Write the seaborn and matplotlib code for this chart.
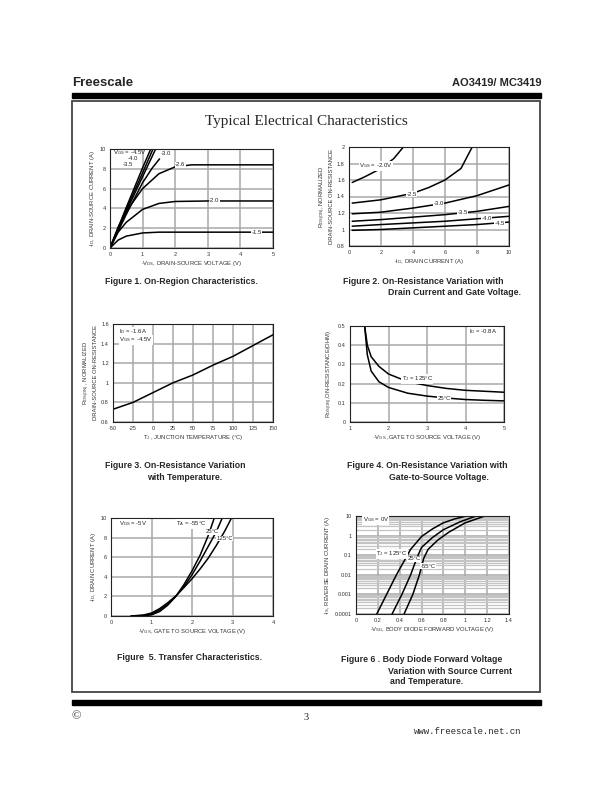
import numpy as np
import matplotlib
matplotlib.use("Agg")
import matplotlib.pyplot as plt
from matplotlib.patches import Rectangle
import seaborn as sns

sns.set_theme(style="white")
plt.rcParams['font.family'] = ['Liberation Sans', 'DejaVu Sans']
plt.rcParams['mathtext.fontset'] = 'custom'
plt.rcParams['mathtext.rm'] = 'Liberation Sans'
plt.rcParams['mathtext.it'] = 'Liberation Sans'
plt.rcParams['axes.unicode_minus'] = False

# ---------------- data ----------------
# Figure 1: on-region characteristics, -Id vs -Vds per Vgs
fig1_vgs = ["-4.5", "-4.0", "-3.5", "-3.0", "-2.6", "-2.0", "-1.5"]
fig1_vds = [
    [0, 0.5, 1.0, 1.25],
    [0, 0.5, 1.0, 1.32],
    [0, 0.5, 1.0, 1.4],
    [0, 0.5, 1.0, 1.3, 1.52],
    [0, 0.25, 0.5, 1.0, 1.5, 2.0, 2.5, 3, 4, 5],
    [0, 0.25, 0.5, 1.0, 1.5, 2.0, 3, 4, 5],
    [0, 0.25, 0.5, 1.0, 1.5, 2, 3, 4, 5],
]
fig1_id = [
    [0, 4.1, 8.1, 10],
    [0, 3.9, 7.6, 10],
    [0, 3.7, 7.2, 10],
    [0, 3.4, 6.6, 8.1, 9.0],
    [0, 2.1, 3.7, 6.0, 7.5, 8.2, 8.4, 8.4, 8.4, 8.4],
    [0, 1.6, 2.6, 3.9, 4.5, 4.7, 4.75, 4.75, 4.75],
    [0, 0.8, 1.2, 1.52, 1.6, 1.6, 1.6, 1.6, 1.6],
]

# Figure 2: normalized Rds(on) vs -Id per Vgs
fig2_vgs = ["-2.0", "-2.5", "-3.0", "-3.5", "-4.0", "-4.5"]
fig2_id = [
    [0.2, 1, 2, 2.8, 3.4],
    [0.2, 2, 4, 5, 6, 7, 7.7],
    [0.2, 2, 4, 6, 8, 10],
    [0.2, 2, 4, 6, 8, 10],
    [0.2, 2, 4, 6, 8, 10],
    [0.2, 2, 4, 6, 8, 10],
]
fig2_rds = [
    [1.57, 1.64, 1.74, 1.86, 2.0],
    [1.32, 1.36, 1.44, 1.51, 1.6, 1.74, 2.0],
    [1.19, 1.21, 1.26, 1.32, 1.41, 1.54],
    [1.1, 1.12, 1.15, 1.18, 1.22, 1.28],
    [1.04, 1.06, 1.08, 1.1, 1.13, 1.16],
    [0.99, 1.0, 1.02, 1.04, 1.06, 1.09],
]

# Figure 3: normalized Rds(on) vs junction temperature
fig3_tj = [-50, -25, 0, 25, 50, 75, 100, 125, 150]
fig3_rds = [0.73, 0.8, 0.9, 1.0, 1.08, 1.18, 1.27, 1.38, 1.49]

# Figure 4: Rds(on) vs -Vgs
fig4_vgs = [1.38, 1.45, 1.55, 1.75, 2.0, 2.5, 3.0, 3.5, 4.0, 4.5, 5.0]
fig4_r125 = [0.5, 0.4, 0.34, 0.29, 0.25, 0.21, 0.19, 0.175, 0.165, 0.16, 0.155]
fig4_r25 = [0.5, 0.35, 0.265, 0.21, 0.18, 0.15, 0.135, 0.125, 0.117, 0.113, 0.11]

# Figure 5: transfer characteristics
fig5_vgs = [0.5, 0.8, 1.0, 1.2, 1.4, 1.6, 1.8, 2.0, 2.2, 2.4, 2.6, 2.8, 3.0]
fig5_temps = ["-55°C", "25°C", "125°C"]
fig5_id = [
    [0, 0.02, 0.12, 0.45, 1.1, 2.0, 3.2, 4.6, 6.2, 8.2, 10.6, None, None],
    [0, 0.05, 0.2, 0.6, 1.2, 2.0, 3.0, 4.2, 5.6, 7.1, 8.6, 10.5, None],
    [0, 0.1, 0.3, 0.75, 1.35, 2.05, 2.9, 3.8, 4.8, 5.9, 7.2, 8.6, 10.2],
]

# Figure 6: body diode forward voltage
fig6_temps = ["125°C", "25°C", "-55°C"]
fig6_vsd = [
    [0.19, 0.28, 0.37, 0.44, 0.5, 0.6, 0.7, 0.8, 0.9, 1.01],
    [0.33, 0.42, 0.5, 0.56, 0.6, 0.7, 0.8, 0.95, 1.1],
    [0.44, 0.52, 0.58, 0.62, 0.66, 0.75, 0.85, 1.0, 1.18],
]
fig6_is = [
    [1e-4, 1e-3, 1e-2, 0.05, 0.2, 0.9, 2.2, 4.5, 7.0, 10],
    [1e-4, 1e-3, 1e-2, 0.08, 0.25, 0.8, 2.0, 5.0, 10],
    [1e-4, 1e-3, 1e-2, 0.07, 0.2, 0.6, 1.5, 4.5, 10],
]

# ---------------- figure ----------------
W, H = 612, 792
fig = plt.figure(figsize=(W / 100, H / 100), dpi=100)


def px_axes(left, top, right, bottom):
    return fig.add_axes([left / W, 1 - bottom / H, (right - left) / W, (bottom - top) / H])


def fx(x):
    return x / W


def fy(y):
    return 1 - y / H


GRID = '#a8a8a8'
TXT = '#333333'
LBL = dict(fontsize=4.2, color=TXT)
TICK = 4.0


def style(ax):
    for s in ax.spines.values():
        s.set_color('#222222')
        s.set_linewidth(0.8)
    ax.tick_params(labelsize=TICK, colors=TXT, length=1.5, width=0.5, pad=1.5)
    ax.grid(True, color=GRID, lw=1.1)
    ax.set_axisbelow(True)


def tag(ax, x, y, s, **kw):
    ax.text(x, y, s, fontsize=4.3, color='#222222', va='center', ha='center',
            bbox=dict(facecolor='white', edgecolor='none', pad=0.3), **kw)


# page decorations
fig.text(fx(72), fy(83), "Freescale", fontsize=9.5, fontweight='bold', va='center', ha='left')
fig.text(fx(541), fy(83), "AO3419/ MC3419", fontsize=8, fontweight='bold', va='center', ha='right')
fig.patches.append(Rectangle((fx(72), fy(98)), fx(541) - fx(72), fy(93) - fy(98),
                             transform=fig.transFigure, color='black'))
fig.patches.append(Rectangle((fx(72), fy(705)), fx(541) - fx(72), fy(700) - fy(705),
                             transform=fig.transFigure, color='black'))
fig.patches.append(Rectangle((fx(72), fy(692)), fx(540) - fx(72), fy(101) - fy(692),
                             transform=fig.transFigure, fill=False, edgecolor='#444444', lw=1.3))
fig.text(fx(306), fy(121), "Typical Electrical Characteristics", fontsize=11,
         family=['Liberation Serif', 'DejaVu Serif'], va='center', ha='center')
fig.text(fx(72), fy(716), "©", fontsize=9, family=['Liberation Serif', 'DejaVu Serif'], va='center')
fig.text(fx(306), fy(718), "3", fontsize=7.5, family=['Liberation Serif', 'DejaVu Serif'], va='center', ha='center')
fig.text(fx(521), fy(731), "www.freescale.net.cn", fontsize=6.5,
         family=['Liberation Mono', 'DejaVu Sans Mono'], va='center', ha='right')

CAP = dict(fontsize=6.3, fontweight='bold', va='center', ha='left')

# ---------- Figure 1 ----------
ax1 = px_axes(110, 149, 273, 248)
for xs, ys in zip(fig1_vds, fig1_id):
    sns.lineplot(x=xs, y=ys, ax=ax1, color='black', lw=1.1, sort=False)
ax1.set_xlim(0, 5)
ax1.set_ylim(0, 10)
ax1.set_xticks(range(0, 6))
ax1.set_yticks(range(0, 11, 2))
style(ax1)
ax1.set_xlabel("-V$_{DS}$, DRAIN-SOURCE VOLTAGE (V)", labelpad=1, **LBL)
ax1.set_ylabel("-I$_D$, DRAIN-SOURCE CURRENT (A)", labelpad=2, **LBL)
tag(ax1, 2.15, 8.4, "-2.6")
tag(ax1, 3.2, 4.75, "-2.0")
tag(ax1, 4.5, 1.6, "-1.5")
ax1.text(0.08, 9.65, "V$_{GS}$ = -4.5V", fontsize=4.3, color='#222', va='center')
ax1.text(0.55, 9.0, "-4.0", fontsize=4.3, color='#222', va='center')
ax1.text(0.38, 8.45, "-3.5", fontsize=4.3, color='#222', va='center')
ax1.text(1.55, 9.5, "-3.0", fontsize=4.3, color='#222', va='center')
fig.text(fx(105), fy(281), "Figure 1. On-Region Characteristics.", **CAP)

# ---------- Figure 2 ----------
ax2 = px_axes(349, 147, 509, 246)
for xs, ys in zip(fig2_id, fig2_rds):
    sns.lineplot(x=xs, y=ys, ax=ax2, color='black', lw=1.1, sort=False)
ax2.set_xlim(0, 10)
ax2.set_ylim(0.8, 2)
ax2.set_xticks(range(0, 11, 2))
ax2.set_yticks([0.8, 1, 1.2, 1.4, 1.6, 1.8, 2])
ax2.set_yticklabels(["0.8", "1", "1.2", "1.4", "1.6", "1.8", "2"])
style(ax2)
ax2.set_xlabel("-I$_D$, DRAIN CURRENT (A)", labelpad=1, **LBL)
ax2.set_ylabel("R$_{DS(ON)}$, NORMALIZED\nDRAIN-SOURCE ON-RESISTANCE", labelpad=2, **LBL)
tag(ax2, 1.7, 1.77, "V$_{GS}$ = -2.0V")
tag(ax2, 3.9, 1.43, "-2.5")
tag(ax2, 5.6, 1.31, "-3.0")
tag(ax2, 7.1, 1.2, "-3.5")
tag(ax2, 8.6, 1.13, "-4.0")
tag(ax2, 9.4, 1.07, "-4.5")
fig.text(fx(343), fy(281), "Figure 2. On-Resistance Variation with", **CAP)
fig.text(fx(388), fy(292), "Drain Current and Gate Voltage.", **CAP)

# ---------- Figure 3 ----------
ax3 = px_axes(113, 324, 273, 422)
sns.lineplot(x=fig3_tj, y=fig3_rds, ax=ax3, color='black', lw=1.1)
ax3.set_xlim(-50, 150)
ax3.set_ylim(0.6, 1.6)
ax3.set_xticks(fig3_tj)
ax3.set_yticks([0.6, 0.8, 1, 1.2, 1.4, 1.6])
ax3.set_yticklabels(["0.6", "0.8", "1", "1.2", "1.4", "1.6"])
style(ax3)
ax3.set_xlabel("T$_J$ , JUNCTION TEMPERATURE (°C)", labelpad=1, **LBL)
ax3.set_ylabel("R$_{DS(ON)}$ , NORMALIZED\nDRAIN-SOURCE ON-RESISTANCE", labelpad=2, **LBL)
ax3.text(-42, 1.52, "I$_D$ = -1.6A", fontsize=4.3, color='#222', va='center',
         bbox=dict(facecolor='white', edgecolor='none', pad=0.3))
ax3.text(-42, 1.44, "V$_{GS}$ = -4.5V", fontsize=4.3, color='#222', va='center',
         bbox=dict(facecolor='white', edgecolor='none', pad=0.3))
fig.text(fx(105), fy(466), "Figure 3. On-Resistance Variation", **CAP)
fig.text(fx(147), fy(477), "with Temperature.", **CAP)

# ---------- Figure 4 ----------
ax4 = px_axes(350, 326, 504, 422)
sns.lineplot(x=fig4_vgs, y=fig4_r125, ax=ax4, color='black', lw=1.1)
sns.lineplot(x=fig4_vgs, y=fig4_r25, ax=ax4, color='black', lw=1.1)
ax4.set_xlim(1, 5)
ax4.set_ylim(0, 0.5)
ax4.set_xticks(range(1, 6))
ax4.set_yticks([0, 0.1, 0.2, 0.3, 0.4, 0.5])
ax4.set_yticklabels(["0", "0.1", "0.2", "0.3", "0.4", "0.5"])
style(ax4)
ax4.set_xlabel("-V$_{GS}$ ,GATE TO SOURCE VOLTAGE (V)", labelpad=1, **LBL)
ax4.set_ylabel("R$_{DS(ON)}$,ON-RESISTANCE(OHM)", labelpad=2, **LBL)
tag(ax4, 2.75, 0.225, "T$_J$ = 125°C")
tag(ax4, 3.45, 0.122, "25°C")
ax4.text(4.1, 0.47, "I$_D$ = -0.8A", fontsize=4.3, color='#222', va='center',
         bbox=dict(facecolor='white', edgecolor='none', pad=0.3))
fig.text(fx(347), fy(466), "Figure 4. On-Resistance Variation with", **CAP)
fig.text(fx(389), fy(477), "Gate-to-Source Voltage.", **CAP)

# ---------- Figure 5 ----------
ax5 = px_axes(111, 518, 273, 616)
for ys in fig5_id:
    pts = [(x, y) for x, y in zip(fig5_vgs, ys) if y is not None]
    sns.lineplot(x=[p[0] for p in pts], y=[p[1] for p in pts], ax=ax5, color='black', lw=1.1)
ax5.set_xlim(0, 4)
ax5.set_ylim(0, 10)
ax5.set_xticks(range(0, 5))
ax5.set_yticks(range(0, 11, 2))
style(ax5)
ax5.set_xlabel("-V$_{GS}$, GATE TO SOURCE VOLTAGE (V)", labelpad=1, **LBL)
ax5.set_ylabel("-I$_D$, DRAIN CURRENT (A)", labelpad=2, **LBL)
ax5.text(0.2, 9.4, "V$_{DS}$ = -5V", fontsize=4.3, color='#222', va='center',
         bbox=dict(facecolor='white', edgecolor='none', pad=0.3))
tag(ax5, 1.98, 9.4, "T$_A$ = -55°C")
tag(ax5, 2.5, 8.6, "25°C")
tag(ax5, 2.8, 7.9, "125°C")
fig.text(fx(117), fy(658), "Figure  5. Transfer Characteristics.", **CAP)

# ---------- Figure 6 ----------
ax6 = px_axes(356, 516, 509, 614)
for xs, ys in zip(fig6_vsd, fig6_is):
    sns.lineplot(x=xs, y=ys, ax=ax6, color='black', lw=1.1)
ax6.set_yscale('log')
ax6.set_xlim(0, 1.4)
ax6.set_ylim(1e-4, 10)
ax6.set_xticks([0, 0.2, 0.4, 0.6, 0.8, 1, 1.2, 1.4])
ax6.set_xticklabels(["0", "0.2", "0.4", "0.6", "0.8", "1", "1.2", "1.4"])
ax6.set_yticks([1e-4, 1e-3, 1e-2, 0.1, 1, 10])
ax6.set_yticklabels(["0.0001", "0.001", "0.01", "0.1", "1", "10"])
style(ax6)
ax6.yaxis.set_minor_locator(matplotlib.ticker.LogLocator(base=10, subs=np.arange(2, 10)))
ax6.yaxis.set_minor_formatter(matplotlib.ticker.NullFormatter())
ax6.grid(True, which='minor', axis='y', color='#c4c4c4', lw=0.9)
ax6.tick_params(which='minor', length=0)
ax6.set_xlabel("-V$_{SD}$, BODY DIODE FORWARD VOLTAGE (V)", labelpad=1, **LBL)
ax6.set_ylabel("-I$_S$, REVERSE DRAIN CURRENT (A)", labelpad=2, **LBL)
ax6.text(0.06, 6.3, "V$_{GS}$ = 0V", fontsize=4.3, color='#222', va='center',
         bbox=dict(facecolor='white', edgecolor='none', pad=0.3))
tag(ax6, 0.33, 0.12, "T$_J$ = 125°C")
tag(ax6, 0.53, 0.065, "25°C")
tag(ax6, 0.66, 0.028, "-55°C")
fig.text(fx(341), fy(660), "Figure 6 . Body Diode Forward Voltage", **CAP)
fig.text(fx(388), fy(671), "Variation with Source Current", **CAP)
fig.text(fx(390), fy(682), "and Temperature.", **CAP)

fig.savefig("out.png", dpi=100, facecolor='white')
